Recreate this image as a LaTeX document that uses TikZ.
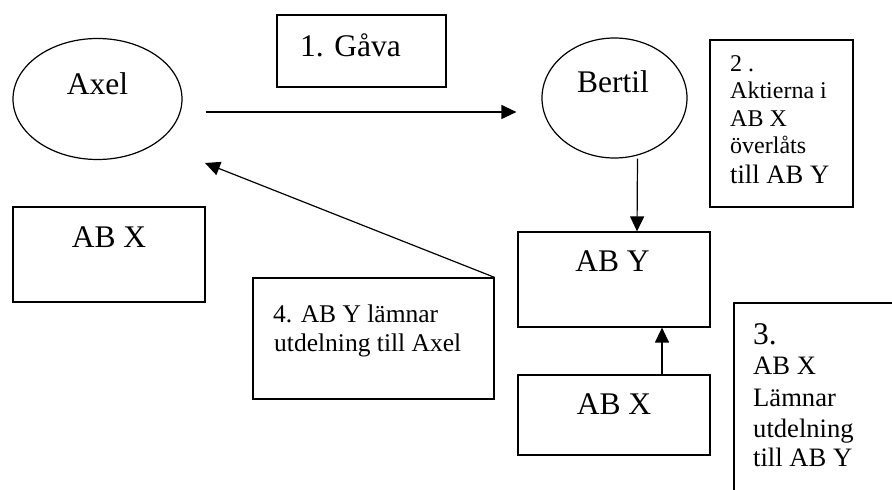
\documentclass[tikz,border=0pt]{standalone}
\usepackage{fontspec}
\setmainfont{Liberation Serif}
\usetikzlibrary{arrows.meta,positioning,shapes.geometric}
\tikzset{
  box/.style={draw, line width=1.2pt, inner sep=0pt},
  oval/.style={draw, ellipse, line width=1.2pt, inner sep=0pt},
  big/.style={font=\fontsize{31.5}{36}\selectfont, inner sep=0pt},
  small/.style={font=\fontsize{24}{28}\selectfont, inner sep=0pt},
  mid/.style={font=\fontsize{26.6}{30}\selectfont, inner sep=0pt},
  arr/.style={line width=1.2pt, -{Triangle[length=15pt,width=14pt]}}
}
\begin{document}
\begin{tikzpicture}[x=1pt,y=1pt]
\useasboundingbox (0,0) rectangle (892,490);
\clip (0,0) rectangle (892,490);
% Persons
\node[oval, minimum width=169pt, minimum height=121pt] (axel) at (97.5,391) {};
\node[big, anchor=base] (axeltxt) at ([yshift=4pt]axel.center) {Axel};
\node[oval, minimum width=145pt, minimum height=120pt] (bertil) at (614.5,392) {};
\node[big, anchor=base] (bertiltxt) at ([xshift=-1.5pt,yshift=5pt]bertil.center) {Bertil};
% Companies
\node[box, minimum width=192pt, minimum height=95pt] (abxleft) at (109,235.5) {};
\node[big, anchor=base] (abxlefttxt) at ([yshift=6.5pt]abxleft.center) {AB X};
\node[box, minimum width=192pt, minimum height=95pt] (aby) at (614,210.5) {};
\node[big, anchor=base] (abytxt) at ([xshift=-1.5pt,yshift=7.5pt]aby.center) {AB Y};
\node[box, minimum width=192pt, minimum height=80pt] (abx) at (614,75) {};
\node[big, anchor=base] (abxtxt) at (abx.center) {AB X};
% Step 1
\node[box, minimum width=169pt, minimum height=72pt] (gava) at (361.5,439) {};
\node[big, anchor=base west] (gavatxt) at (300,433) {1. Gåva};
% Step 2
\node[box, minimum width=143pt, minimum height=167pt] (steptwo) at (781.5,366.5) {};
\foreach \txt/\yy [count=\i] in {2 ./418, Aktierna i/391, AB X/363, överlåts/336}
  \node[small, anchor=base west] (steptwo\i) at (730,\yy) {\txt};
\node[mid, anchor=base west] (steptwo5) at (730,306) {till AB Y};
% Step 3 (runs off the page)
\node[box, minimum width=176pt, minimum height=207pt] (stepthree) at (822,83.5) {};
\node[big, anchor=base west] (stepthree0) at (753,145) {3.};
\foreach \txt/\yy [count=\i] in {AB X/115, Lämnar/83, utdelning/52, till AB Y/23}
  \node[mid, anchor=base west] (stepthree\i) at (753,\yy) {\txt};
% Step 4
\node[box, minimum width=241pt, minimum height=121pt] (stepfour) at (373.5,151.5) {};
\node[font=\fontsize{25.5}{29}\selectfont, inner sep=0pt, anchor=base west] (stepfour1) at (273,167) {4. AB Y lämnar};
\node[font=\fontsize{25.5}{29}\selectfont, inner sep=0pt, anchor=base west] (stepfour2) at (274,138) {utdelning till Axel};
% Flows
\coordinate (axeltip) at ([shift={(107.5pt,-64pt)}]axel.center);
\draw[arr] ([xshift=23pt,yshift=-13pt]axel.east) -- ([xshift=-25pt,yshift=-14pt]bertil.west);
\draw[arr] ([xshift=23pt]bertil.south) -- ([xshift=23pt]aby.north);
\draw[arr] ([xshift=48pt]abx.north) -- ([xshift=48pt]aby.south);
\draw[arr] (stepfour.north east) -- (axeltip);
\end{tikzpicture}
\end{document}
